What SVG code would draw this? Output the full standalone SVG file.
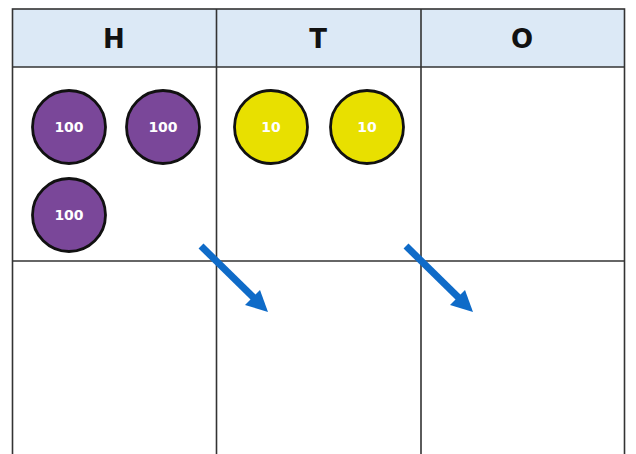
<svg xmlns="http://www.w3.org/2000/svg" width="636" height="454" viewBox="0 0 636 454">
<defs>
<style>
.grid{stroke:#333;stroke-width:1.6;fill:none}
.hdr{font-family:"DejaVu Sans","Liberation Sans",sans-serif;font-weight:bold;font-size:26px;fill:#111;text-anchor:middle}
.hund{fill:#7a4799;stroke:#111;stroke-width:2.8}
.ten{fill:#e8e000;stroke:#111;stroke-width:2.8}
.lbl{font-family:"DejaVu Sans","Liberation Sans",sans-serif;font-weight:bold;font-size:14px;fill:#fff;text-anchor:middle}
.shaft{stroke:#0f6bc8;stroke-width:7;fill:none}
.head{fill:#0f6bc8}
</style>
</defs>
<rect width="636" height="454" fill="#fff"/>
<g id="table">
<rect x="12.5" y="9" width="612" height="58" fill="#dce9f6"/>
<rect x="12.5" y="9" width="612" height="450" class="grid"/>
<line x1="12.5" y1="67" x2="624.5" y2="67" class="grid"/>
<line x1="12.5" y1="261" x2="624.5" y2="261" class="grid"/>
<line x1="216.5" y1="9" x2="216.5" y2="459" class="grid"/>
<line x1="421" y1="9" x2="421" y2="459" class="grid"/>
<text x="114" y="48" class="hdr">H</text>
<text x="318" y="48" class="hdr">T</text>
<text x="522" y="48" class="hdr">O</text>
</g>
<g id="h1"><circle cx="69" cy="127" r="36.5" class="hund"/><text x="69" y="132" class="lbl">100</text></g>
<g id="h2"><circle cx="163" cy="127" r="36.5" class="hund"/><text x="163" y="132" class="lbl">100</text></g>
<g id="h3"><circle cx="69" cy="215" r="36.5" class="hund"/><text x="69" y="220" class="lbl">100</text></g>
<g id="t1"><circle cx="271" cy="127" r="36.5" class="ten"/><text x="271" y="132" class="lbl">10</text></g>
<g id="t2"><circle cx="367" cy="127" r="36.5" class="ten"/><text x="367" y="132" class="lbl">10</text></g>
<g id="connectors">
<line x1="201" y1="246" x2="254" y2="298" class="shaft"/>
<polygon points="268,312 260,290 245,305" class="head"/>
<line x1="406" y1="246" x2="459" y2="298" class="shaft"/>
<polygon points="473,312 465,290 450,305" class="head"/>
</g>
</svg>
